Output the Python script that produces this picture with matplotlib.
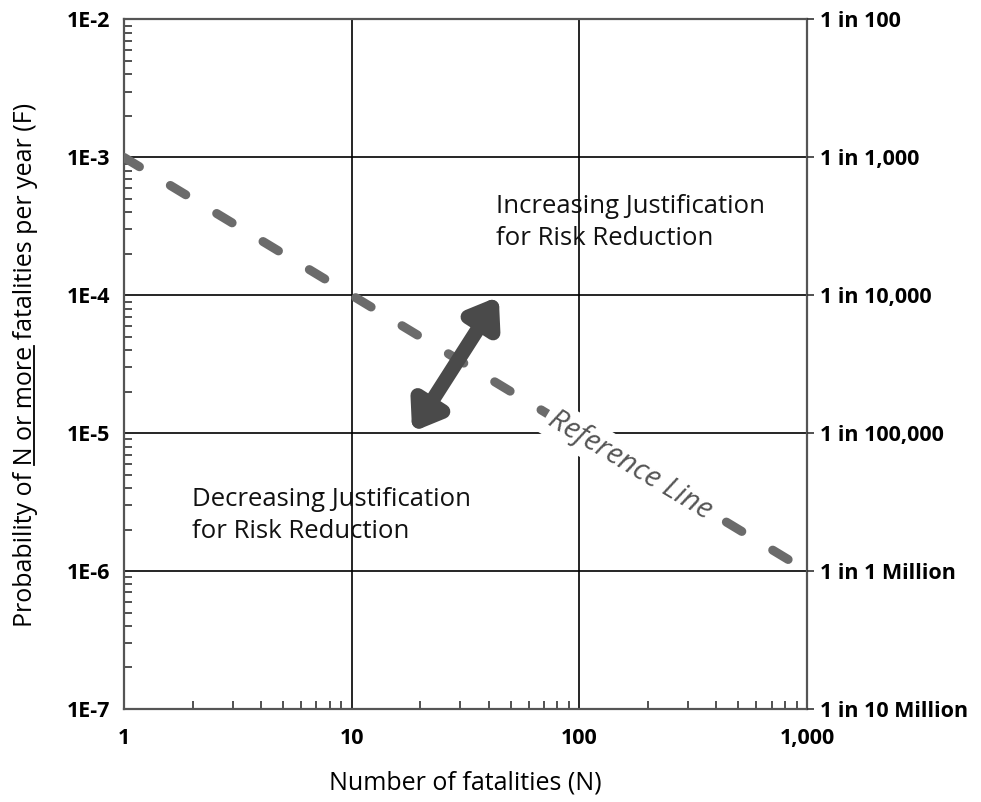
import matplotlib.pyplot as plt
from matplotlib.patches import FancyArrowPatch
from matplotlib.lines import Line2D
import numpy as np

plt.rcParams['font.family'] = ['Open Sans', 'DejaVu Sans']

# values
x_ticks = [1, 10, 100, 1000]
x_labels = ['1', '10', '100', '1,000']
y_ticks = [1e-7, 1e-6, 1e-5, 1e-4, 1e-3, 1e-2]
y_labels = ['1E-7', '1E-6', '1E-5', '1E-4', '1E-3', '1E-2']
right_labels = ['1 in 10 Million', '1 in 1 Million', '1 in 100,000',
                '1 in 10,000', '1 in 1,000', '1 in 100']
ref_n = [1, 880]
ref_f = [1e-3, 1.14e-6]
arrow_n = [18.3, 44.6]
arrow_f = [1.0e-5, 1.0e-4]

W, H = 981, 802
fig = plt.figure(figsize=(W / 100, H / 100), dpi=100)
ax = fig.add_axes([0.1264, 0.116, 0.6962, 0.8597])
ax.set_xscale('log')
ax.set_yscale('log')
ax.set_xlim(1, 1000)
ax.set_ylim(1e-7, 1e-2)

ax.grid(True, which='major', color='black', lw=1.2)
ax.set_axisbelow(True)
for s in ax.spines.values():
    s.set_color('#555555')
    s.set_linewidth(1.6)

ax.set_xticks(x_ticks)
ax.set_xticklabels(x_labels, fontweight='bold', fontsize=15.5)
ax.set_yticks(y_ticks)
ax.set_yticklabels(y_labels, fontweight='bold', fontsize=15.5)
ax.tick_params(which='major', length=0, pad=10)
ax.tick_params(axis='x', which='major', pad=14)
ax.tick_params(which='minor', direction='in', length=6, width=1.2, color='#333333')
ax.yaxis.set_minor_formatter(plt.NullFormatter())
ax.xaxis.set_minor_formatter(plt.NullFormatter())

ax2 = ax.twinx()
ax2.set_yscale('log')
ax2.set_ylim(1e-7, 1e-2)
ax2.set_yticks(y_ticks)
ax2.set_yticklabels(right_labels, fontweight='bold', fontsize=15.5)
ax2.yaxis.set_minor_locator(plt.NullLocator())
ax2.tick_params(axis='y', length=5, width=1.2, pad=4.5, color='#333333')
for s in ax2.spines.values():
    s.set_visible(False)

# reference line
ax.plot(ref_n, ref_f, color='#6b6b6b', lw=6.5, linestyle=(0, (2.0, 4.0)),
        solid_capstyle='round', dash_capstyle='round', zorder=3)

# double arrow
arr = FancyArrowPatch((arrow_n[0], arrow_f[0]), (arrow_n[1], arrow_f[1]),
                      arrowstyle='<|-|>,head_length=0.85,head_width=0.6',
                      mutation_scale=18, lw=10.5, color='#4a4a4a',
                      joinstyle='round', capstyle='round',
                      shrinkA=1, shrinkB=1, zorder=4)
ax.add_patch(arr)

ax.text(0.545, 0.706, 'Increasing Justification\nfor Risk Reduction',
        transform=ax.transAxes, fontsize=18.5, ha='left', va='center',
        linespacing=1.35, color='#111111')
ax.text(0.0996, 0.281, 'Decreasing Justification\nfor Risk Reduction',
        transform=ax.transAxes, fontsize=18.5, ha='left', va='center',
        linespacing=1.35, color='#111111')
ax.text(0.741, 0.354, 'Reference Line', transform=ax.transAxes,
        fontsize=21, style='italic', color='#555555', rotation=-31,
        ha='center', va='center', rotation_mode='anchor', zorder=5,
        bbox=dict(facecolor='white', edgecolor='none', pad=3))

fig.text(0.474, 0.024, 'Number of fatalities (N)', ha='center', va='center',
         fontsize=18)

# y label with "N or more" underlined
ylab = 'Probability of N or more fatalities per year (F)'
pre = 'Probability of N or more'
und = 'N or more'
yl = fig.text(0.026, 0.545, ylab, rotation=90, ha='center', va='center',
              fontsize=18)
r = fig.canvas.get_renderer()


def text_len(s):
    t = fig.text(0, 0, s, fontsize=18)
    w = t.get_window_extent(r).width
    t.remove()
    return w


bb = yl.get_window_extent(r)
start = bb.y0 + text_len(pre) - text_len(und)
end = start + text_len(und)
ux = bb.x1 - 4.5
fig.add_artist(Line2D([ux / W, ux / W], [start / H, end / H],
                      transform=fig.transFigure, color='black', lw=1.3))

fig.savefig('out.png', dpi=100)
